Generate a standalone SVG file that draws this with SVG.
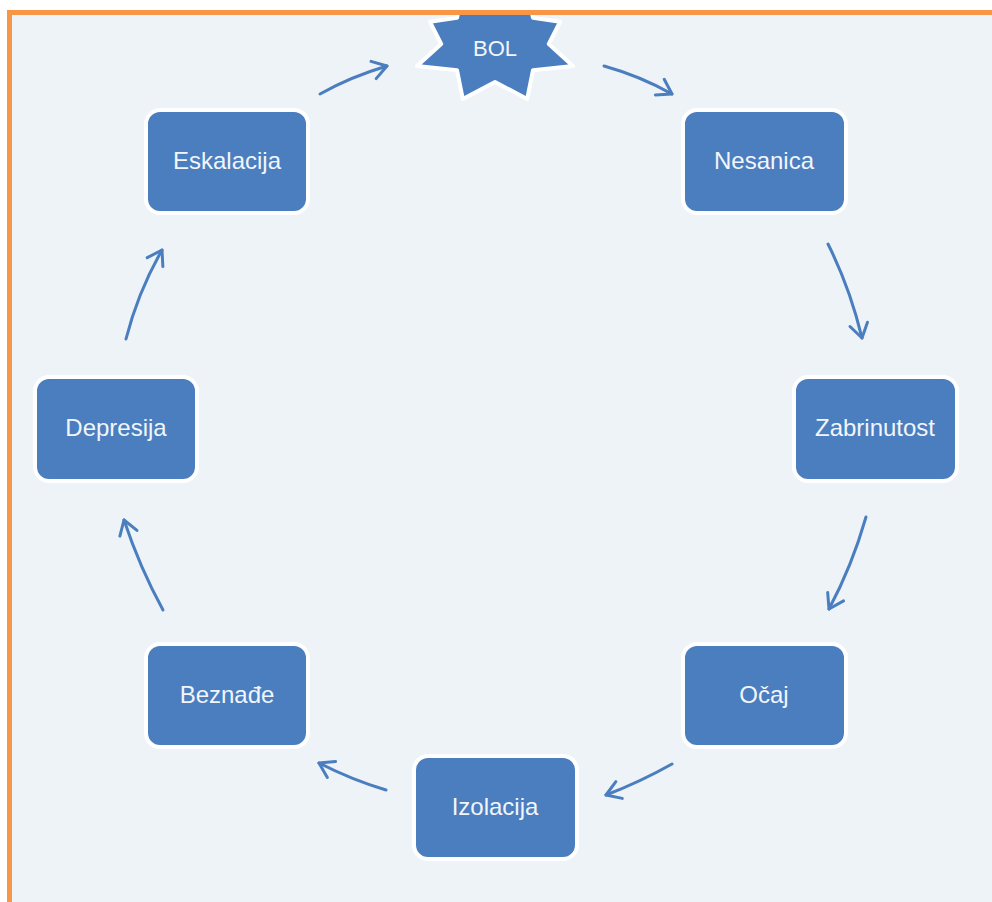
<svg xmlns="http://www.w3.org/2000/svg" width="992" height="902" viewBox="0 0 992 902">
<style>
.node rect{fill:#4a7ebf;stroke:#ffffff;stroke-width:4}
.node polygon{fill:#4a7ebf;stroke:#ffffff;stroke-width:4;stroke-linejoin:round}
.node text{fill:#f2f5fa;font-family:"Liberation Sans",Arial,sans-serif;font-size:24px;text-anchor:middle}
.conn path{fill:none;stroke:#4a7ebf;stroke-width:3;stroke-linecap:round;marker-end:url(#arr)}
</style>
<defs>
<marker id="arr" markerUnits="userSpaceOnUse" markerWidth="24" markerHeight="24" viewBox="0 0 24 24" refX="18" refY="12" orient="auto">
<path d="M4,3 L18,12 L4,21" fill="none" stroke="#4a7ebf" stroke-width="3" stroke-linecap="round" stroke-linejoin="round"/>
</marker>
<clipPath id="inner"><rect x="12" y="15" width="980" height="887"/></clipPath>
</defs>
<rect x="0" y="0" width="992" height="902" fill="#ffffff"/>
<rect x="12" y="15" width="980" height="887" fill="#eef3f8"/>
<g id="BOL" class="node">
<polygon clip-path="url(#inner)" points="573,66 533,70.2 527.2,99 495,82 462.8,99 457,70.2 417,66 441.2,44 430,21.8 457,17.8 462.8,-9.6 495,6.9 527.2,-9.6 533,17.8 560,21.8 548.8,44"/>
<text x="495" y="56" style="font-size:22px">BOL</text>
</g>
<rect x="7" y="10" width="985" height="5" fill="#f79646"/>
<rect x="7" y="10" width="5" height="892" fill="#f79646"/>
<g id="Eskalacija" class="node"><rect x="146" y="110" width="162" height="103" rx="14"/><text x="227" y="169">Eskalacija</text></g>
<g id="Nesanica" class="node"><rect x="683" y="110" width="163" height="103" rx="14"/><text x="764" y="169">Nesanica</text></g>
<g id="Zabrinutost" class="node"><rect x="794" y="377" width="163" height="104" rx="14"/><text x="875" y="436">Zabrinutost</text></g>
<g id="Depresija" class="node"><rect x="35" y="377" width="162" height="104" rx="14"/><text x="116" y="436">Depresija</text></g>
<g id="Beznade" class="node"><rect x="146" y="644" width="162" height="103" rx="14"/><text x="227" y="703">Beznađe</text></g>
<g id="Ocaj" class="node"><rect x="683" y="644" width="163" height="103" rx="14"/><text x="764" y="703">Očaj</text></g>
<g id="Izolacija" class="node"><rect x="414" y="756" width="163" height="103" rx="14"/><text x="495" y="815">Izolacija</text></g>
<g id="connectors" class="conn">
<path d="M320,94 Q350,77 387,66"/>
<path d="M604,66 Q640,76 672,94"/>
<path d="M828,244 Q850,288 862,338"/>
<path d="M866,517 Q852,566 829,609"/>
<path d="M672,764 Q640,782 606,795"/>
<path d="M386,790 Q352,780 319,763"/>
<path d="M163,610 Q140,568 124,520"/>
<path d="M126,339 Q138,292 162,250"/>
</g>
</svg>
